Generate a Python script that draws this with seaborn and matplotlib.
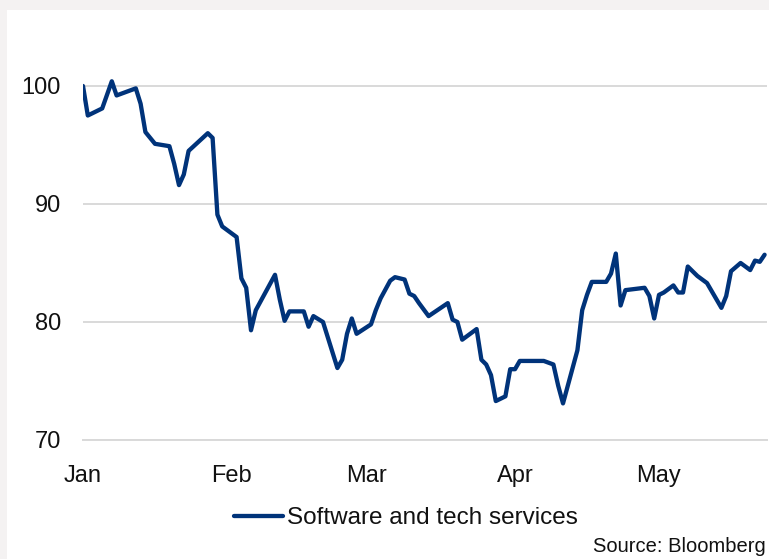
import matplotlib
matplotlib.use("Agg")
import matplotlib.pyplot as plt
from matplotlib.patches import Rectangle
import pandas as pd
import seaborn as sns

dates = [
    "2026-01-01", "2026-01-02", "2026-01-05", "2026-01-07", "2026-01-08", "2026-01-10",
    "2026-01-12", "2026-01-13", "2026-01-14", "2026-01-16", "2026-01-19", "2026-01-20",
    "2026-01-21", "2026-01-22", "2026-01-23", "2026-01-27", "2026-01-28", "2026-01-29",
    "2026-01-30", "2026-02-02", "2026-02-03", "2026-02-04", "2026-02-05", "2026-02-06",
    "2026-02-10", "2026-02-11", "2026-02-12", "2026-02-13", "2026-02-16", "2026-02-17",
    "2026-02-18", "2026-02-20", "2026-02-23", "2026-02-24", "2026-02-25", "2026-02-26",
    "2026-02-27", "2026-03-02", "2026-03-03", "2026-03-04", "2026-03-06", "2026-03-07",
    "2026-03-09", "2026-03-10", "2026-03-11", "2026-03-12", "2026-03-14", "2026-03-18",
    "2026-03-19", "2026-03-20", "2026-03-21", "2026-03-24", "2026-03-25", "2026-03-26",
    "2026-03-27", "2026-03-28", "2026-03-30", "2026-03-31", "2026-04-01", "2026-04-02",
    "2026-04-07", "2026-04-09", "2026-04-10", "2026-04-11", "2026-04-14", "2026-04-15",
    "2026-04-16", "2026-04-17", "2026-04-20", "2026-04-21", "2026-04-22", "2026-04-23",
    "2026-04-24", "2026-04-28", "2026-04-29", "2026-04-30", "2026-05-01", "2026-05-02",
    "2026-05-04", "2026-05-05", "2026-05-06", "2026-05-07", "2026-05-09", "2026-05-11",
    "2026-05-14", "2026-05-15", "2026-05-16", "2026-05-18", "2026-05-20", "2026-05-21",
    "2026-05-22", "2026-05-23",
]
values = [
    100.0, 97.5, 98.1, 100.4, 99.2, 99.5,
    99.8, 98.5, 96.1, 95.1, 94.9, 93.4,
    91.6, 92.5, 94.5, 96.0, 95.6, 89.1,
    88.1, 87.2, 83.7, 82.9, 79.3, 81.0,
    84.0, 81.9, 80.1, 80.9, 80.9, 79.6,
    80.5, 80.0, 76.1, 76.8, 79.0, 80.3,
    79.0, 79.8, 81.0, 82.0, 83.5, 83.8,
    83.6, 82.4, 82.2, 81.6, 80.5, 81.6,
    80.2, 80.0, 78.5, 79.4, 76.8, 76.4,
    75.5, 73.3, 73.7, 76.0, 76.0, 76.7,
    76.7, 76.4, 74.6, 73.1, 77.6, 81.0,
    82.3, 83.4, 83.4, 84.1, 85.8, 81.4,
    82.7, 82.9, 82.2, 80.3, 82.3, 82.5,
    83.1, 82.5, 82.5, 84.7, 83.9, 83.3,
    81.2, 82.2, 84.3, 85.0, 84.4, 85.2,
    85.1, 85.7,
]
series_name = "Software and tech services"
month_ticks = ["2026-01-01", "2026-02-01", "2026-03-01", "2026-04-01", "2026-05-01"]
month_labels = ["Jan", "Feb", "Mar", "Apr", "May"]
y_ticks = [70, 80, 90, 100]
source_text = "Source: Bloomberg"

df = pd.DataFrame({"date": pd.to_datetime(dates), "value": values, "series": series_name})

sns.set_theme(style="white")
plt.rcParams["font.family"] = ["Liberation Sans", "DejaVu Sans"]

W, H = 769, 559
fig = plt.figure(figsize=(W / 100, H / 100), dpi=100)
fig.patch.set_facecolor("#f4f2f2")
fig.patches.append(Rectangle((7 / W, 0), 1, 1 - 10 / H, transform=fig.transFigure,
                             facecolor="white", edgecolor="none", zorder=-10))

ax_left, ax_right = 83, 767
ax_bottom, ax_top = 440, 38.8
ax = fig.add_axes([ax_left / W, 1 - ax_bottom / H, (ax_right - ax_left) / W, (ax_bottom - ax_top) / H])
ax.set_zorder(5)
ax.set_facecolor("none")

color = "#00337a"
sns.lineplot(data=df, x="date", y="value", hue="series", palette=[color],
             linewidth=3.1, ax=ax, legend=True)

ax.set_ylim(70, 104)
x0 = pd.Timestamp("2026-01-01")
ax.set_xlim(x0, x0 + pd.Timedelta(days=142.5))
ax.set_yticks(y_ticks)
ax.set_xticks(pd.to_datetime(month_ticks))
ax.set_xticklabels(month_labels)
ax.set_xlabel("")
ax.set_ylabel("")
ax.grid(axis="y", color="#d9d9d9", linewidth=1.4)
ax.grid(axis="x", visible=False)
ax.set_axisbelow(True)
for s in ["top", "right", "left"]:
    ax.spines[s].set_visible(False)
ax.spines["bottom"].set_color("#d9d9d9")
ax.spines["bottom"].set_linewidth(1.4)
ax.tick_params(axis="x", length=7, width=1.2, color="#d9d9d9", pad=11, labelsize=17, labelcolor="#111111")
ax.tick_params(axis="y", length=0, pad=16, labelsize=17, labelcolor="#111111")

h, l = ax.get_legend_handles_labels()
ax.legend_.remove()
leg = fig.legend(h, l, loc="center", bbox_to_anchor=(406 / W, 1 - 518 / H), frameon=False,
                 fontsize=17.5, handlelength=2.0, handletextpad=0.15, labelcolor="#111111")
leg.set_zorder(6)

fig.text(766 / W, 1 - 547 / H, source_text, ha="right", va="center", fontsize=14.5, color="#111111")

fig.savefig("out.png", dpi=100, facecolor=fig.get_facecolor())
